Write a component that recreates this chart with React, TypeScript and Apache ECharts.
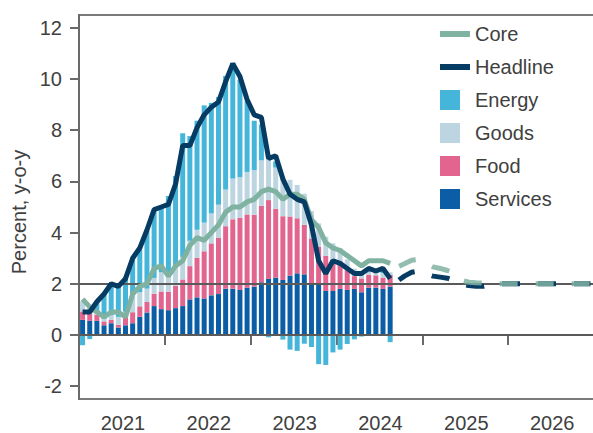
import React, { useEffect, useRef } from 'react';
import * as echarts from 'echarts';

// ---------- data ----------
const years = [2021, 2022, 2023, 2024, 2025, 2026];
const months: string[] = years.flatMap((y) =>
  Array.from({ length: 12 }, (_, m) => `${y}-${String(m + 1).padStart(2, '0')}`)
);

// contributions, percentage points (Jan 2021 - Aug 2024)
const services = [
  0.59, 0.55, 0.55, 0.38, 0.46, 0.29, 0.38, 0.46, 0.71, 0.88, 1.13, 1.01,
  0.97, 1.05, 1.13, 1.39, 1.47, 1.43, 1.55, 1.6, 1.81, 1.81, 1.76, 1.85,
  1.89, 2.06, 2.19, 2.24, 2.15, 2.32, 2.41, 2.37, 2.02, 1.98, 1.72, 1.72,
  1.8, 1.76, 1.8, 1.67, 1.85, 1.85, 1.8, 1.89,
];
const food = [
  0.33, 0.28, 0.24, 0.15, 0.13, 0.11, 0.35, 0.43, 0.41, 0.41, 0.48, 0.69,
  0.72, 0.87, 1.04, 1.3, 1.55, 1.84, 2.03, 2.19, 2.44, 2.71, 2.82, 2.86,
  2.81, 2.99, 3.08, 2.69, 2.49, 2.31, 2.15, 1.93, 1.75, 1.47, 1.37, 1.21,
  1.08, 0.77, 0.5, 0.54, 0.5, 0.48, 0.44, 0.46,
];
const goods = [
  0.39, 0.26, 0.08, 0.1, 0.18, 0.31, 0.18, 0.68, 0.55, 0.52, 0.62, 0.75,
  0.6, 0.8, 0.88, 0.99, 1.09, 1.12, 1.17, 1.3, 1.43, 1.59, 1.59, 1.66,
  1.74, 1.77, 1.72, 1.61, 1.51, 1.43, 1.3, 1.22, 1.07, 0.91, 0.75, 0.65,
  0.52, 0.42, 0.29, 0.23, 0.18, 0.18, 0.18, 0.1,
];
const energy = [
  -0.4, -0.16, 0.41, 0.99, 1.24, 1.2, 1.36, 1.46, 1.67, 2.25, 2.61, 2.47,
  3.14, 3.49, 4.83, 4.09, 4.26, 4.58, 4.32, 4.21, 4.44, 4.52, 3.8, 2.78,
  1.93, 1.4, -0.09, 0.24, -0.18, -0.57, -0.62, -0.34, -0.47, -1.14, -1.17, -0.68,
  -0.57, -0.35, -0.17, -0.06, 0.03, 0.02, 0.11, -0.28,
];
const headline = [
  0.9, 0.9, 1.3, 1.6, 2.0, 1.9, 2.2, 3.0, 3.4, 4.1, 4.9, 5.0,
  5.1, 5.9, 7.4, 7.4, 8.1, 8.6, 8.9, 9.1, 9.9, 10.6, 10.1, 9.2,
  8.6, 8.5, 6.9, 7.0, 6.1, 5.5, 5.3, 5.2, 4.3, 2.9, 2.4, 2.9,
  2.8, 2.6, 2.4, 2.4, 2.6, 2.5, 2.6, 2.2,
];
const core = [
  1.4, 1.1, 0.9, 0.7, 0.9, 0.9, 0.7, 1.6, 1.9, 2.0, 2.6, 2.7,
  2.3, 2.7, 2.9, 3.5, 3.8, 3.7, 4.0, 4.3, 4.8, 5.0, 5.0, 5.2,
  5.3, 5.6, 5.7, 5.6, 5.3, 5.5, 5.5, 5.3, 4.5, 4.2, 3.6, 3.4,
  3.3, 3.1, 2.9, 2.7, 2.9, 2.9, 2.9, 2.8,
];
// projections Sep 2024 - Dec 2026
const headlineForecast = [
  2.1, 2.3, 2.45, 2.5,
  2.4, 2.3, 2.26, 2.22, 2.12, 2.0, 1.93, 1.9, 1.9, 1.95, 2.0, 2.0,
  2.0, 2.0, 2.0, 2.0, 2.0, 2.0, 2.0, 2.0, 2.0, 2.0, 2.0, 2.0,
];
const coreForecast = [
  2.65, 2.78, 2.92, 2.95,
  2.8, 2.66, 2.6, 2.52, 2.42, 2.14, 2.06, 2.04, 2.03, 2.0, 2.0, 2.0,
  2.0, 2.0, 2.0, 2.0, 2.0, 2.0, 2.0, 2.0, 2.0, 2.0, 2.0, 2.0,
];
const actualCount = headline.length;
const yTicks = [-2, 0, 2, 4, 6, 8, 10, 12];
const refLines = [0, 2];

// ---------- styles ----------
const FONT = '"Liberation Sans", Arial, Helvetica, sans-serif';
const TEXT = '#404040';
const AXIS = '#6a6a6a';
const C = {
  core: '#7fb2a1',
  headline: '#063c63',
  energy: '#45b5da',
  goods: '#bdd4e1',
  food: '#e1658f',
  services: '#0b5ea6',
};
const LINE_ICON = 'path://M0,0L0.01,0M0,7H30V13H0ZM29.99,20L30,20';
const BOX_ICON = 'path://M0,0H20V20H0ZM29.99,20L30,20';

export default function App() {
  const ref = useRef<HTMLDivElement>(null);

  useEffect(() => {
    if (!ref.current) return;
    const chart = echarts.init(ref.current, undefined, { renderer: 'svg' });
    const pad = (arr: number[]) => [...Array(actualCount).fill(null), ...arr];

    const barSeries = (name: string, data: number[], color: string, extra: any = {}) => ({
      name,
      type: 'bar',
      stack: 'contrib',
      data,
      barWidth: 5,
      itemStyle: { color },
      ...extra,
    });

    chart.setOption({
      animation: false,
      textStyle: { fontFamily: FONT },
      grid: {
        left: 79,
        right: -1,
        top: 15,
        bottom: 34,
        show: true,
        borderColor: '#7a7a7a',
        borderWidth: 2,
        outerBoundsMode: 'none',
        containLabel: false,
      },
      legend: {
        orient: 'vertical',
        left: 440,
        top: 24,
        padding: 0,
        itemWidth: 30,
        itemHeight: 20,
        itemGap: 13,
        itemStyle: { borderWidth: 0 },
        textStyle: { fontSize: 20, color: TEXT, fontFamily: FONT, lineHeight: 20 },
        selectedMode: false,
        data: [
          { name: 'Core', icon: LINE_ICON },
          { name: 'Headline', icon: LINE_ICON },
          { name: 'Energy', icon: BOX_ICON },
          { name: 'Goods', icon: BOX_ICON },
          { name: 'Food', icon: BOX_ICON },
          { name: 'Services', icon: BOX_ICON },
        ],
      },
      xAxis: {
        type: 'category',
        data: months,
        boundaryGap: true,
        axisLine: { show: true, lineStyle: { color: AXIS, width: 2 } },
        axisTick: {
          show: true,
          interval: (i: number) => i % 12 === 0,
          length: 10,
          lineStyle: { color: AXIS, width: 2 },
        },
        axisLabel: {
          interval: (i: number) => i % 12 === 6,
          formatter: (v: string) => v.slice(0, 4),
          fontSize: 20,
          color: TEXT,
          margin: 14,
          padding: [0, 5, 0, 0],
        },
        splitLine: { show: false },
      },
      yAxis: {
        type: 'value',
        min: -2.5,
        max: 12.5,
        name: 'Percent, y-o-y',
        nameLocation: 'middle',
        nameGap: 48,
        nameTextStyle: { fontSize: 20, color: TEXT, padding: [0, 10, 0, 0] },
        axisLine: { show: true, lineStyle: { color: AXIS, width: 2 } },
        axisTick: { show: true, length: 9, customValues: yTicks, lineStyle: { color: AXIS, width: 2 } },
        axisLabel: { customValues: yTicks, fontSize: 20, color: TEXT, margin: 17 },
        splitLine: { show: false },
      },
      series: [
        barSeries('Services', services, C.services),
        barSeries('Food', food, C.food),
        barSeries('Goods', goods, C.goods),
        barSeries('Energy', energy, C.energy, {
          markLine: {
            silent: true,
            symbol: 'none',
            label: { show: false },
            lineStyle: { color: '#5a5a5a', width: 2, type: 'solid' },
            data: refLines.map((v) => ({ yAxis: v })),
            z: 5,
          },
        }),
        {
          name: 'Core',
          type: 'line',
          data: core,
          symbol: 'none',
          z: 10,
          itemStyle: { color: C.core },
          lineStyle: { color: C.core, width: 5 },
        },
        {
          name: 'Headline',
          type: 'line',
          data: headline,
          symbol: 'none',
          z: 11,
          itemStyle: { color: C.headline },
          lineStyle: { color: C.headline, width: 5 },
        },
        {
          name: 'Headline projection',
          type: 'line',
          data: pad(headlineForecast),
          symbol: 'none',
          z: 10,
          itemStyle: { color: C.headline },
          lineStyle: { color: C.headline, width: 5, type: [18, 18], dashOffset: -2.3 },
        },
        {
          name: 'Core projection',
          type: 'line',
          data: pad(coreForecast),
          symbol: 'none',
          z: 11,
          itemStyle: { color: C.core },
          lineStyle: { color: C.core, width: 5, type: [18, 18], dashOffset: -2.3, opacity: 0.85 },
        },
      ],
    });

    return () => chart.dispose();
  }, []);

  return (
    <div
      ref={ref}
      style={{ position: 'absolute', left: 0, top: 0, width: 593, height: 433, background: '#fff' }}
    />
  );
}
